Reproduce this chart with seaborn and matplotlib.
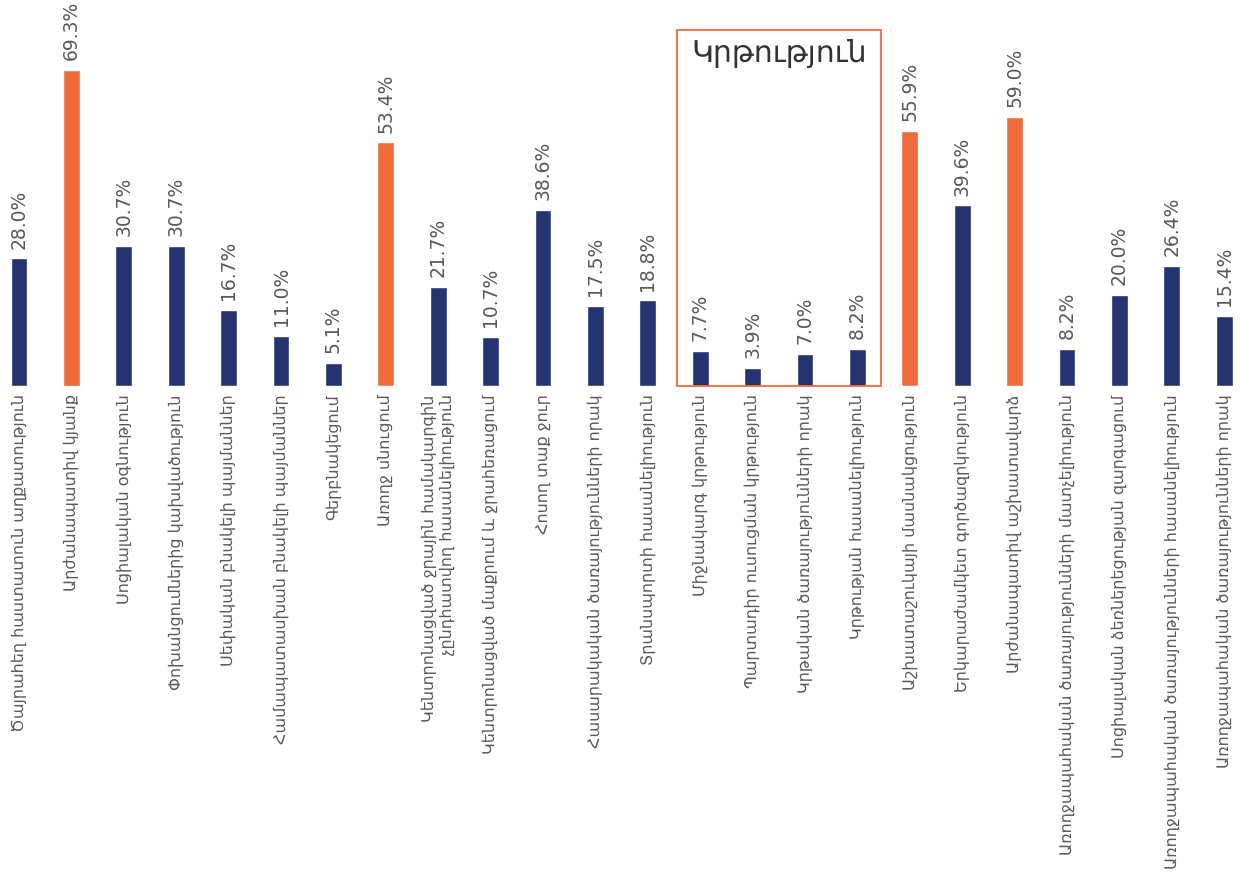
import matplotlib
matplotlib.use('Agg')
import matplotlib.pyplot as plt
import seaborn as sns
from matplotlib.patches import Rectangle

# Categories and values
categories = [
    'Ծայրահեղ հաստատուն աղքատություն',
    'Արժանապատիվ կյանք',
    'Սոցիալական օգնություն',
    'Փոխանցումներից կախվածություն',
    'Սեփական բնակելի պայմաններ',
    'Համապատասխան բնակելի պայմաններ',
    'Գերբնակեցում',
    'Առողջ սնուցում',
    'Կենտրոնացված ջրային համակարգին\nչընդհատվող հասանելիություն',
    'Կենտրոնացված մաքրում և ջրահեռացում',
    'Հոսող տաք ջուր',
    'Հասարակական ծառայությունների որակ',
    'Տրանսպորտի հասանելիություն',
    'Միջնակարգ կրթություն',
    'Պարտադիր ուսուցման կրթություն',
    'Կրթական ծառայությունների որակ',
    'Կրթության հասանելիություն',
    'Աշխատաշուկայի մասնակցություն',
    'Երկարաժամկետ գործազրկություն',
    'Արժանապատիվ աշխատավարձ',
    'Առողջապահական ծառայությունների մատչելիություն',
    'Սոցիալական ձեռներեցության զարգացում',
    'Առողջապահական ծառայությունների հասանելիություն',
    'Առողջապահական ծառայությունների որակ',
]
values = [28.0, 69.3, 30.7, 30.7, 16.7, 11.0, 5.1, 53.4, 21.7, 10.7, 38.6, 17.5,
          18.8, 7.7, 3.9, 7.0, 8.2, 55.9, 39.6, 59.0, 8.2, 20.0, 26.4, 15.4]
highlighted = [False, True, False, False, False, False, False, True, False, False, False, False,
               False, False, False, False, False, True, False, True, False, False, False, False]
education_group = ['Միջնակարգ կրթություն', 'Պարտադիր ուսուցման կրթություն',
                   'Կրթական ծառայությունների որակ', 'Կրթության հասանելիություն']
group_title = 'Կրթություն'

navy = '#253471'
orange = '#EF6C3A'
gray = '#595959'

sns.set_theme(style='white')
plt.rcParams['font.family'] = ['DejaVu Sans']

fig = plt.figure(figsize=(12.41, 8.74), dpi=100)
ax = fig.add_axes([0, 0.5584, 1, 0.4174])

colors = [orange if h else navy for h in highlighted]
sns.barplot(x=categories, y=values, hue=categories, palette=colors, legend=False,
            width=0.32, saturation=1, ax=ax)

for cont, v in zip(ax.containers, values):
    ax.bar_label(cont, labels=[f'{v:.1f}%'], rotation=90, padding=7,
                 fontsize=13.5, color=gray)

ax.set_ylim(0, 80)
ax.set_xlim(-0.363, len(categories) - 1 + 0.32)
ax.set_yticks([])
ax.set_xlabel('')
ax.set_ylabel('')
sns.despine(ax=ax, left=True, bottom=True, top=True, right=True)
ax.tick_params(axis='x', length=0, pad=6)
ax.set_xticks(range(len(categories)))
ax.set_xticklabels(categories, rotation=90, fontsize=11.5, color=gray,
                   multialignment='right')

# Education group box
idx = [categories.index(c) for c in education_group]
x0 = min(idx) - 0.45
x1 = max(idx) + 0.45
box = Rectangle((x0, 0), x1 - x0, 78.1, fill=False, edgecolor=orange,
                linewidth=1.3, clip_on=False)
ax.add_patch(box)
ax.text((x0 + x1) / 2, 73, group_title, ha='center', va='center',
        fontsize=21.5, color='#333333')

fig.savefig('out.png', dpi=100)
